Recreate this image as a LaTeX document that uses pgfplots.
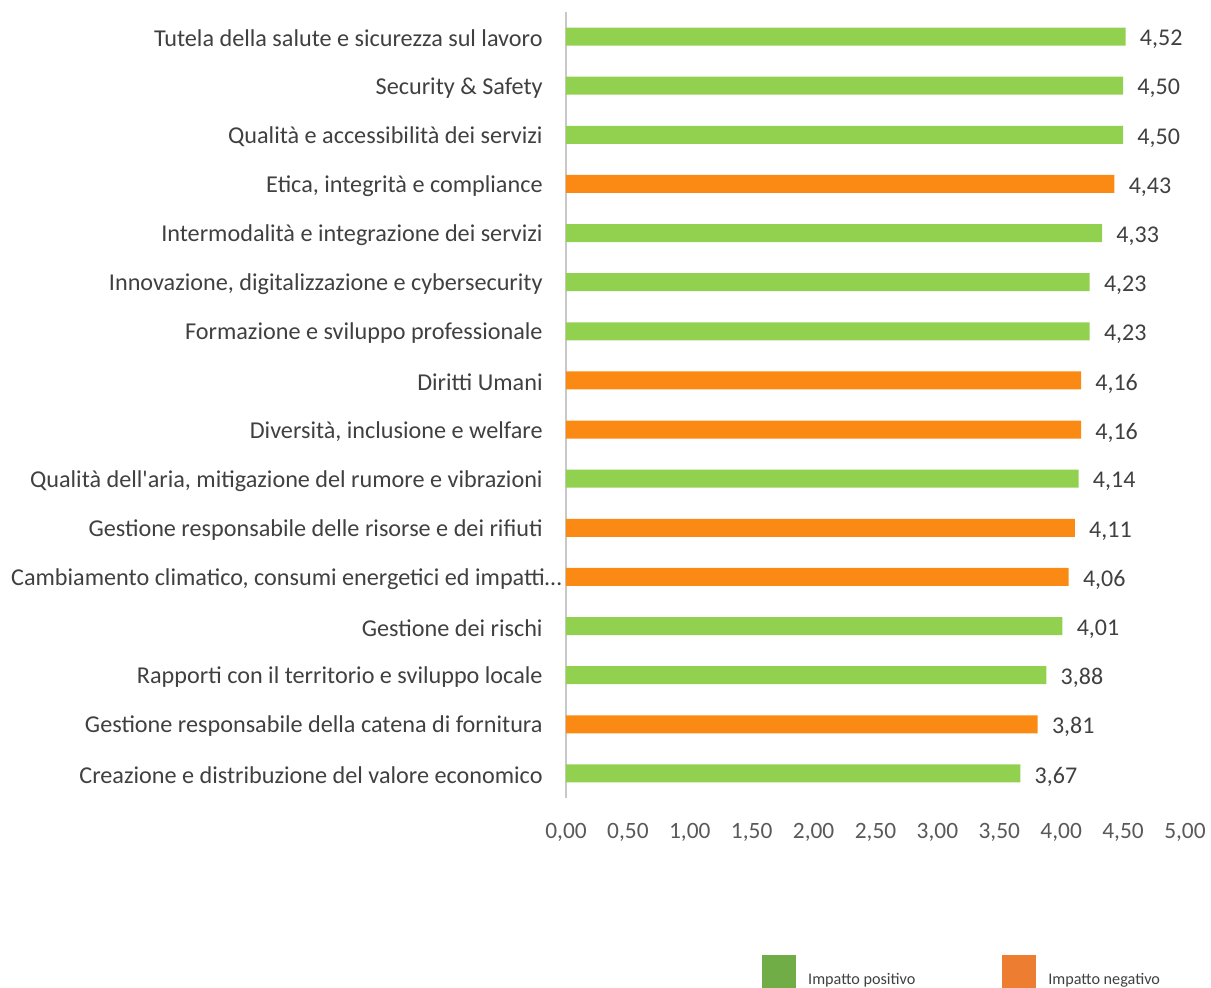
\documentclass[border=0pt]{standalone}
\usepackage{pgfplots}
\usepackage{pgfplotstable}
\pgfplotsset{compat=1.18}
\usepackage{fontspec}
\setmainfont{Carlito}[Ligatures=TeXOff]
\definecolor{barG}{RGB}{146,208,80}
\definecolor{barO}{RGB}{250,138,20}
\definecolor{legG}{RGB}{112,173,71}
\definecolor{legO}{RGB}{237,125,49}
\definecolor{txt}{RGB}{64,64,64}
\definecolor{tickc}{RGB}{89,89,89}
\definecolor{axl}{RGB}{200,200,200}
\pgfplotstableread{
y x
15 4.52
14 4.50
13 4.50
11 4.33
10 4.23
9 4.23
6 4.14
3 4.01
2 3.88
0 3.67
}\greendata
\pgfplotstableread{
y x
12 4.43
8 4.16
7 4.16
5 4.11
4 4.06
1 3.81
}\orangedata
\begin{document}
\begin{tikzpicture}
\useasboundingbox (0pt,0pt) rectangle (605.5pt,493.5pt);
\begin{axis}[
  at={(283pt,94.5pt)}, anchor=south west,
  scale only axis, width=309.5pt, height=393pt,
  xbar, bar width=9pt, bar shift=0pt,
  xmin=0, xmax=5, ymin=-0.5, ymax=15.5,
  xtick={0,0.5,1,1.5,2,2.5,3,3.5,4,4.5,5},
  ytick={0,...,15},
  yticklabels={
    Creazione e distribuzione del valore economico,
    Gestione responsabile della catena di fornitura,
    Rapporti con il territorio e sviluppo locale,
    Gestione dei rischi,
    {Cambiamento climatico, consumi energetici ed impatti…\hspace*{-9.5pt}},
    Gestione responsabile delle risorse e dei rifiuti,
    {Qualità dell'aria, mitigazione del rumore e vibrazioni},
    {Diversità, inclusione e welfare},
    Diritti Umani,
    Formazione e sviluppo professionale,
    {Innovazione, digitalizzazione e cybersecurity},
    Intermodalità e integrazione dei servizi,
    {Etica, integrità e compliance},
    Qualità e accessibilità dei servizi,
    Security \& Safety,
    Tutela della salute e sicurezza sul lavoro},
  axis x line*=bottom, axis y line*=left,
  x axis line style={draw=none},
  y axis line style={draw=axl, line width=1pt},
  major tick length=0pt,
  /pgf/number format/assume math mode=true,
  /pgf/number format/use comma,
  /pgf/number format/fixed,
  /pgf/number format/fixed zerofill,
  /pgf/number format/precision=2,
  yticklabel style={font=\fontsize{12.1}{14}\selectfont, text=txt, inner sep=0pt, xshift=-11.5pt, yshift=-1pt, anchor=east},
  xticklabel style={font=\fontsize{11.7}{13}\selectfont, text=tickc, inner sep=0pt, yshift=-12.5pt, anchor=north},
  point meta=x,
  nodes near coords,
  every node near coord/.append style={anchor=west, inner sep=0pt, xshift=7pt, yshift=-1.5pt, font=\fontsize{12}{14}\selectfont, text=txt},
  legend columns=2,
  legend style={at={(0.3166,-0.1997)}, anchor=north west, draw=none, fill=none, inner sep=0pt,
    font=\fontsize{8.1}{9}\selectfont, text=txt,
    /tikz/every even column/.append style={column sep=41.5pt}},
]
\addplot[fill=barG, draw=none, forget plot] table[x=x, y=y] {\greendata};
\addplot[fill=barO, draw=none, forget plot] table[x=x, y=y] {\orangedata};
\addlegendimage{legend image code/.code={\fill[legG] (0pt,-10pt) rectangle (16.5pt,6.5pt);}}
\addlegendentry{\hspace*{4pt}\raisebox{-8.5pt}{Impatto positivo}}
\addlegendimage{legend image code/.code={\fill[legO] (0pt,-10pt) rectangle (16.5pt,6.5pt);}}
\addlegendentry{\hspace*{4pt}\raisebox{-8.5pt}{Impatto negativo}}
\end{axis}
\end{tikzpicture}
\end{document}
